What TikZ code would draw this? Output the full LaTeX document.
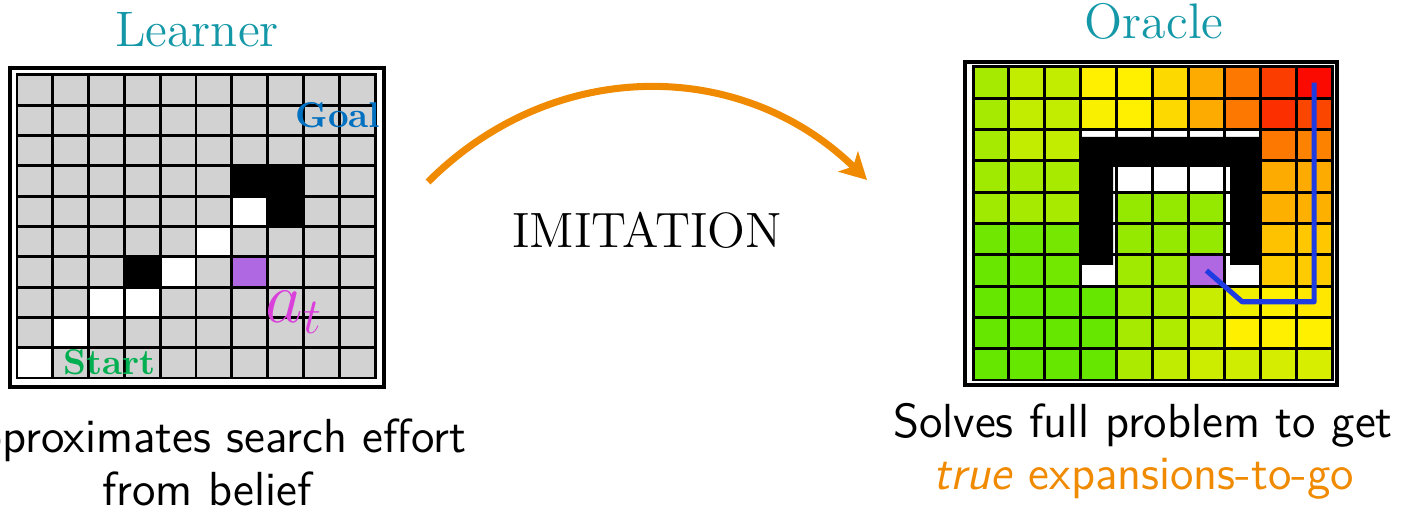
\documentclass[tikz,border=0pt]{standalone}
\usepackage{amsmath, amssymb}
\usepackage{xcolor}
\usepackage{tikz}
\usetikzlibrary{arrows.meta, positioning, calc}
\definecolor{titleteal}{RGB}{20, 152, 168}
\definecolor{imitorange}{RGB}{240, 138, 0}
\definecolor{goalblue}{RGB}{0, 112, 192}
\definecolor{startgreen}{RGB}{0, 176, 80}
\definecolor{agentpink}{RGB}{218, 64, 218}
\definecolor{agentpurple}{RGB}{176, 104, 226}
\definecolor{cellgray}{RGB}{210, 210, 210}
\definecolor{heatgreen}{RGB}{95, 230, 0}
\definecolor{heatyellow}{RGB}{255, 240, 0}
\definecolor{heatred}{RGB}{250, 10, 0}
\definecolor{pathblue}{RGB}{30, 60, 225}

\begin{document}
\begin{tikzpicture}[x=0.01cm, y=-0.01cm,
    gridline/.style={black, line width=0.85pt, line cap=rect},
    frameline/.style={black, line width=0.9pt},
    txt/.style={inner sep=0pt, anchor=base},
    title/.style={txt, text=titleteal, font=\fontsize{14.2}{16}\selectfont},
    caption/.style={txt, font=\sffamily\fontsize{13.6}{15}\selectfont}]
  \useasboundingbox (0,0) rectangle (1422,507);

  % learner grid (belief)
  \fill[cellgray] (17,75) rectangle (375,378);
  \foreach \c/\r in {6/3, 7/3, 7/4, 3/6}
    \fill[black] ({17+\c*35.8},{75+\r*30.3}) rectangle +(35.8,30.3);
  \foreach \c/\r in {6/4, 5/5, 4/6, 2/7, 3/7, 1/8, 0/9}
    \fill[white] ({17+\c*35.8},{75+\r*30.3}) rectangle +(35.8,30.3);
  \fill[agentpurple] ({17+6*35.8},{75+6*30.3}) rectangle +(35.8,30.3);
  \foreach \i in {0,...,10} {
    \draw[gridline] ({17+\i*35.8},75) -- ({17+\i*35.8},378);
    \draw[gridline] (17,{75+\i*30.3}) -- (375,{75+\i*30.3});
  }
  \draw[frameline] (10,68) rectangle (384,387);
  \node[txt, anchor=base east, text=goalblue, font=\bfseries\fontsize{10.2}{12}\selectfont] (goal) at (381,128) {Goal};
  \node[txt, anchor=base west, text=startgreen, font=\bfseries\fontsize{10.2}{12}\selectfont] (start) at (63,375) {Start};
  \node[txt, anchor=base west, text=agentpink, font=\fontsize{20}{22}\selectfont] (action) at (265,323) {$a_t$};

  % oracle grid (cost-to-go heat map)
  \foreach \rowvals [count=\r from 0] in {
      {22,31,31,50,50,55,65,76,89,100},
      {22,31,31,48,50,55,65,76,92,87},
      {22,31,31,0,0,0,0,0,76,74},
      {20,22,23,0,0,0,0,0,65,65},
      {20,22,23,0,17,17,17,0,64,64},
      {5,5,7,0,17,17,17,0,60,59},
      {3,4,6,0,20,20,20,0,58,58},
      {2,2,2,2,20,23,33,45,50,52},
      {2,2,2,2,22,25,33,50,50,50},
      {2,2,2,2,24,30,34,35,37,38}} {
    \foreach \v [count=\c from 0] in \rowvals {
      \ifnum\v>50
        \pgfmathtruncatemacro\pct{2*(\v-50)}\edef\heat{heatred!\pct!heatyellow}%
      \else
        \pgfmathtruncatemacro\pct{2*\v}\edef\heat{heatyellow!\pct!heatgreen}%
      \fi
      \fill[\heat] ({973+\c*35.9},{67+\r*31.3}) rectangle +(35.9,31.3);
    }
  }
  \foreach \c/\r in {3/2, 4/2, 5/2, 6/2, 7/2, 4/3, 5/3, 6/3, 3/3, 3/4, 3/5, 3/6, 7/3, 7/4, 7/5, 7/6}
    \fill[white] ({973+\c*35.9},{67+\r*31.3}) rectangle +(35.9,31.3);
  \fill[agentpurple] ({973+6*35.9},{67+6*31.3}) rectangle +(35.9,31.3);
  \foreach \i in {0,...,10} {
    \draw[gridline] ({973+\i*35.9},67) -- ({973+\i*35.9},380);
    \draw[gridline] (973,{67+\i*31.3}) -- (1332,{67+\i*31.3});
  }
  \fill[black] (1080.7,137) -- (1260.2,137) -- (1260.2,265) -- (1230,265) -- (1230,167)
    -- (1113,167) -- (1113,265) -- (1080.7,265) -- cycle;
  \draw[frameline] (965,62) rectangle (1337,385);
  \coordinate (p0) at (1206.4,270.5);
  \coordinate (p1) at (1242.2,301.8);
  \coordinate (p2) at (1314.1,301.8);
  \coordinate (p3) at (1314.1,82.7);
  \draw[pathblue, line width=1.45pt, line join=round] (p0) -- (p1) -- (p2) -- (p3);

  % titles and captions
  \node[title] (learner) at (197,47) {Learner};
  \node[title] (oracle) at (1154,39) {Oracle};
  \node[txt, font=\fontsize{14.1}{16}\selectfont] (imitation) at (647,248) {IMITATION};
  \coordinate (imstart) at (428,182);
  \coordinate (imend) at (867,180);
  \draw[imitorange, line width=2pt, -{Stealth[length=7.5pt, width=8pt, inset=2pt]}]
    (imstart) .. controls (553,57) and (741,57) .. (imend);
  \node[caption] (learnercap) at (207,453) {Approximates search effort};
  \node[caption] (learnercapb) at (207,505) {from belief};
  \node[caption] (oraclecap) at (1143,438) {Solves full problem to get};
  \node[caption, text=imitorange] (oraclecapb) at (1144,490) {\textsl{true} expansions-to-go};
\end{tikzpicture}
\end{document}
